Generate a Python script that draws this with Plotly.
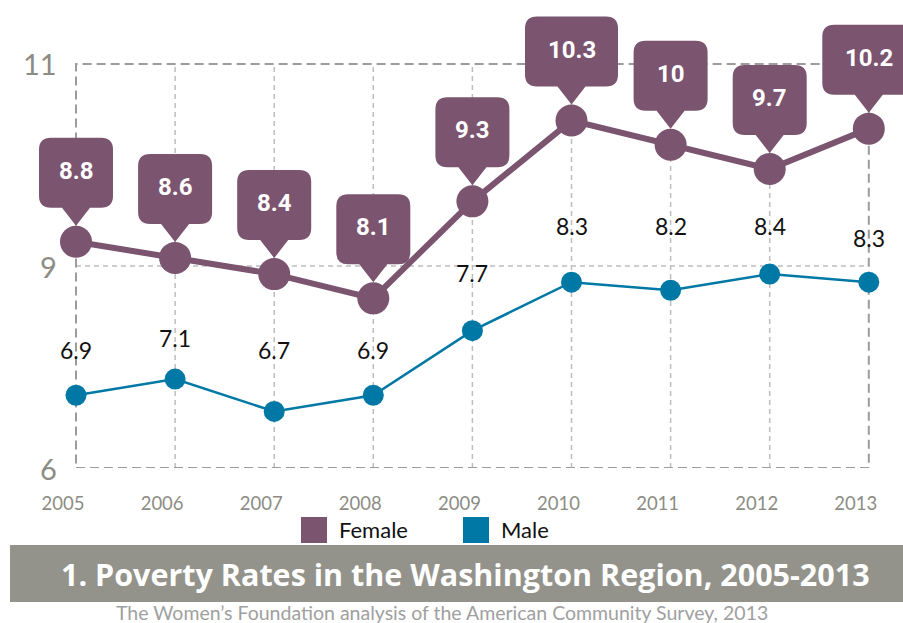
import plotly.graph_objects as go

# ---------------- data ----------------
years = [2005, 2006, 2007, 2008, 2009, 2010, 2011, 2012, 2013]
female = [8.8, 8.6, 8.4, 8.1, 9.3, 10.3, 10.0, 9.7, 10.2]
male = [6.9, 7.1, 6.7, 6.9, 7.7, 8.3, 8.2, 8.4, 8.3]
female_labels = ["8.8", "8.6", "8.4", "8.1", "9.3", "10.3", "10", "9.7", "10.2"]
male_labels = ["6.9", "7.1", "6.7", "6.9", "7.7", "8.3", "8.2", "8.4", "8.3"]
y_tickvals = [6, 8.5, 11]
y_ticktext = ["6", "9", "11"]
series_names = ["Female", "Male"]
title_text = "1. Poverty Rates in the Washington Region, 2005-2013"
source_text = "The Women\u2019s Foundation analysis of the American Community Survey, 2013"

# ---------------- style ----------------
FEMALE_C = "#7b5470"
MALE_C = "#0078a5"
GRID_C = "#bdbdbd"
BORDER_C = "#9c9c9c"
TICK_C = "#8c8c84"
BAND_C = "#93938b"
W, H = 903, 623
PLOT_H = 468  # plot area spans pixel rows 0..468
male_label_lift = [45, 41, 61, 45, 58, 56, 64, 48, 44]


def px_x(p):
    return p / W


def px_y(p):
    return (PLOT_H - p) / PLOT_H


fig = go.Figure()

fig.add_trace(go.Scatter(
    x=years, y=male, name=series_names[1], mode="lines+markers",
    line=dict(color=MALE_C, width=2.5),
    marker=dict(color=MALE_C, size=21),
    cliponaxis=False, showlegend=False, hoverinfo="skip"))

fig.add_trace(go.Scatter(
    x=years, y=female, name=series_names[0], mode="lines+markers",
    line=dict(color=FEMALE_C, width=6),
    marker=dict(color=FEMALE_C, size=32),
    cliponaxis=False, showlegend=False, hoverinfo="skip"))

shapes = []
# grid (restricted to the data frame)
for yv in y_tickvals[1:-1]:
    shapes.append(dict(type="line", xref="x", yref="y", x0=years[0], x1=years[-1],
                       y0=yv, y1=yv, layer="below",
                       line=dict(color=GRID_C, width=1.5, dash="5px,4px")))
for xv in years[1:-1]:
    shapes.append(dict(type="line", xref="x", yref="y", x0=xv, x1=xv,
                       y0=y_tickvals[0], y1=y_tickvals[-1], layer="below",
                       line=dict(color=GRID_C, width=1.5, dash="5px,4px")))
shapes.append(dict(type="rect", xref="x", yref="y", x0=years[0], x1=years[-1],
                   y0=y_tickvals[0], y1=y_tickvals[-1], layer="below",
                   line=dict(color=BORDER_C, width=2, dash="9px,5px")))

# callouts above female points
B, T, TIP, P, R = 34, 104, 16, 14, 12
annotations = []
for xv, yv, lab in zip(years, female, female_labels):
    nd = sum(c.isdigit() for c in lab)
    h = (36 + 19 * nd) / 2
    path = (f"M {-P},{B} L 0,{TIP} L {P},{B} L {h - R},{B} Q {h},{B} {h},{B + R} "
            f"L {h},{T - R} Q {h},{T} {h - R},{T} L {-h + R},{T} Q {-h},{T} {-h},{T - R} "
            f"L {-h},{B + R} Q {-h},{B} {-h + R},{B} Z")
    shapes.append(dict(type="path", xref="x", yref="y", xsizemode="pixel",
                       ysizemode="pixel", xanchor=xv, yanchor=yv, path=path,
                       fillcolor=FEMALE_C, line=dict(width=0), layer="above"))
    annotations.append(dict(x=xv, y=yv, xref="x", yref="y", text=f"<b>{lab}</b>",
                            showarrow=False, yshift=(B + T) / 2 + 2,
                            xanchor="center", yanchor="middle",
                            font=dict(family="Roboto", size=24, color="white")))

for xv, yv, lab, lift in zip(years, male, male_labels, male_label_lift):
    annotations.append(dict(x=xv, y=yv, xref="x", yref="y", text=lab,
                            showarrow=False, yshift=lift,
                            xanchor="center", yanchor="middle",
                            font=dict(family="Lato", size=23, color="#111111")))

# y tick labels
for tv, tt in zip(y_tickvals, y_ticktext):
    annotations.append(dict(x=years[0], y=tv, xref="x", yref="y", text=tt,
                            showarrow=False, xanchor="right", yanchor="middle",
                            xshift=-17, yshift=0,
                            font=dict(family="Lato", size=29, color=TICK_C)))

# legend (manual)
legend_items = [(series_names[0], FEMALE_C, 301), (series_names[1], MALE_C, 463)]
for name, col, x0 in legend_items:
    shapes.append(dict(type="rect", xref="paper", yref="paper",
                       x0=px_x(x0), x1=px_x(x0 + 26), y0=px_y(543), y1=px_y(517),
                       fillcolor=col, line=dict(width=0)))
    annotations.append(dict(x=px_x(x0 + 36), y=px_y(529), xref="paper", yref="paper",
                            text=name, showarrow=False, xanchor="left", yanchor="middle",
                            font=dict(family="Lato", size=22, color="#111111")))

# title band
shapes.append(dict(type="rect", xref="paper", yref="paper",
                   x0=px_x(10), x1=px_x(W), y0=px_y(602), y1=px_y(545),
                   fillcolor=BAND_C, line=dict(width=0)))
annotations.append(dict(x=px_x(465), y=px_y(574), xref="paper", yref="paper",
                        text=f"<b>{title_text}</b>", showarrow=False,
                        xanchor="center", yanchor="middle",
                        font=dict(family="Open Sans", size=30.5, color="white")))
annotations.append(dict(x=px_x(442), y=px_y(612), xref="paper", yref="paper",
                        text=source_text, showarrow=False,
                        xanchor="center", yanchor="middle",
                        font=dict(family="Lato", size=19.5, color="#a0a0a0")))

fig.update_layout(
    width=W, height=H,
    margin=dict(l=0, r=0, t=0, b=H - PLOT_H, pad=0),
    paper_bgcolor="white", plot_bgcolor="white",
    showlegend=False,
    shapes=shapes, annotations=annotations,
    xaxis=dict(range=[2004.2331, 2013.3451], tickvals=years,
               ticktext=[str(y) for y in years],
               showgrid=False, zeroline=False, showline=False, ticks="",
               ticklabelstandoff=22, ticklabelshift=-13,
               tickfont=dict(family="Lato", size=18.5, color=TICK_C), fixedrange=True),
    yaxis=dict(range=[6, 11.792], showgrid=False, zeroline=False, showline=False,
               showticklabels=False, ticks="", fixedrange=True),
)

fig.write_html(
    "out.html",
    config={"displayModeBar": False, "staticPlot": True},
    post_script="document.body.style.margin='0';document.body.style.overflow='hidden';",
)
